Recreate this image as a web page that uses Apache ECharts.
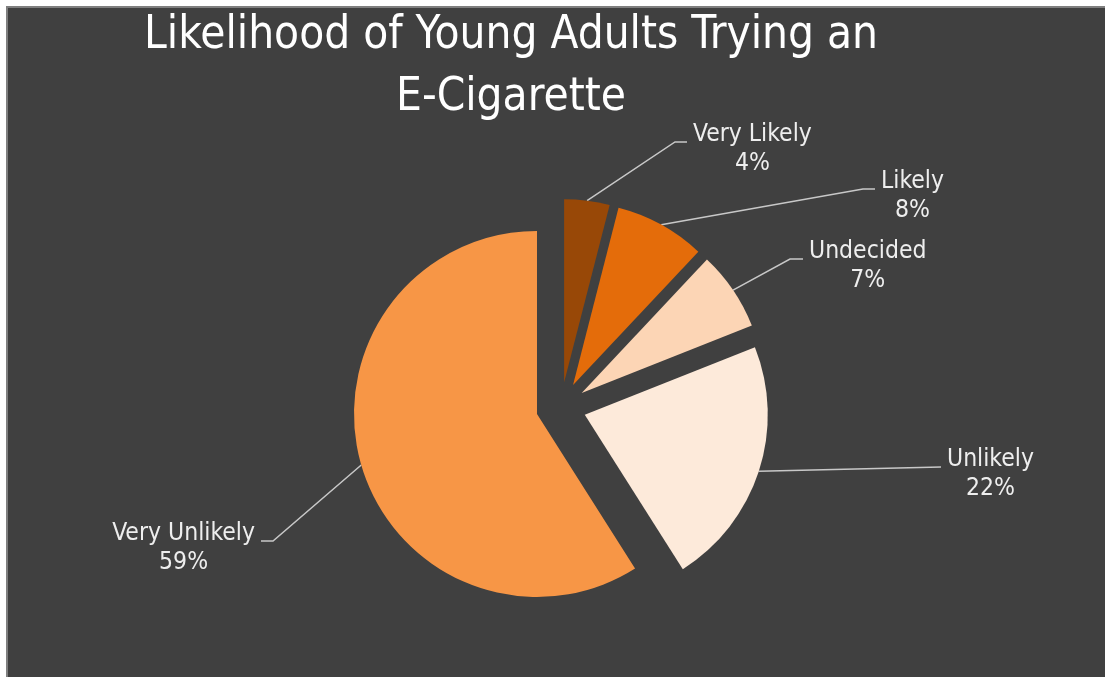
<!DOCTYPE html>
<html>
<head>
<meta charset="utf-8">
<script src="https://cdn.jsdelivr.net/npm/echarts@6/dist/echarts.min.js"></script>
<style>
  html, body { margin: 0; padding: 0; background: #ffffff; overflow: hidden; }
  #frame {
    position: absolute; left: 6px; top: 6px;
    width: 1110px; height: 680px;
    border-left: 2px solid #7f7f7f; border-top: 2px solid #7f7f7f;
    background: #404040;
  }
  #chart { width: 1110px; height: 680px; }
</style>
</head>
<body>
<div id="frame"><div id="chart"></div></div>
<script>
// Survey answers, in clockwise order from 12 o'clock
const categories = ['Very Likely', 'Likely', 'Undecided', 'Unlikely', 'Very Unlikely'];
const shares = [4, 8, 7, 22, 59];
const sliceColors = ['#984807', '#E46C0A', '#FCD5B5', '#FDEADA', '#F79646'];

// Pie geometry (chart pixels)
const PIE_CX = 553, PIE_CY = 399, PIE_R = 183, EXPLODE = 25;

// Leader-line elbows and ends for each label (chart pixels); side: which side the text sits on
const leaderLayout = [
  { elbow: [667, 134], end: [679, 134], side: 1 },
  { elbow: [855, 181], end: [867, 181], side: 1 },
  { elbow: [782, 251], end: [795, 251], side: 1 },
  { elbow: [933, 459], end: [933, 459], side: 1 },
  { elbow: [265, 533], end: [253, 533], side: -1 }
];

const FONT = "'DejaVu Sans Condensed', 'Liberation Sans Narrow', sans-serif";
const LABEL_SIZE = 24.5;

const total = shares.reduce((a, b) => a + b, 0);
function shareBefore(i) {
  let acc = 0;
  for (let k = 0; k < i; k++) acc += shares[k];
  return acc;
}
// angle of a slice's middle, clockwise from 12 o'clock, in radians
function midAngle(i) {
  return (shareBefore(i) + shares[i] / 2) / total * Math.PI * 2;
}

// widest line of a label, used to place the centred two-line text next to its leader line
const measureCtx = document.createElement('canvas').getContext('2d');
function labelWidth(text) {
  measureCtx.font = LABEL_SIZE + 'px ' + FONT;
  return Math.max.apply(null, text.split('\n').map(s => measureCtx.measureText(s).width));
}

// Each slice is its own pie series so it can be pulled out along its middle angle
const sliceSeries = categories.map((name, i) => {
  const a = midAngle(i);
  const cx = PIE_CX + EXPLODE * Math.sin(a);
  const cy = PIE_CY - EXPLODE * Math.cos(a);
  const text = name + '\n' + shares[i] + '%';
  return {
    type: 'pie',
    name: name,
    center: [cx, cy],
    radius: PIE_R,
    startAngle: 90 - shareBefore(i) / total * 360,
    clockwise: true,
    silent: true,
    avoidLabelOverlap: false,
    emphasis: { disabled: true },
    label: {
      show: true,
      position: 'outside',
      formatter: '{b}\n{c}%',
      color: '#eeeeee',
      fontFamily: FONT,
      fontSize: LABEL_SIZE,
      lineHeight: 29,
      align: 'center'
    },
    labelLine: {
      show: true,
      lineStyle: { color: '#c8c8c8', width: 1.5 }
    },
    labelLayout: function (p) {
      if (p.dataIndex !== 0) return;
      const L = leaderLayout[i];
      const start = [cx + PIE_R * Math.sin(a), cy - PIE_R * Math.cos(a)];
      return {
        x: L.end[0] + L.side * (6 + labelWidth(text) / 2),
        y: L.end[1] + 7,
        align: 'center',
        verticalAlign: 'middle',
        labelLinePoints: [start, L.elbow, L.end]
      };
    },
    data: [
      { name: name, value: shares[i], itemStyle: { color: sliceColors[i] } },
      {
        name: '', value: total - shares[i],
        itemStyle: { color: 'rgba(0,0,0,0)' },
        label: { show: false }, labelLine: { show: false }
      }
    ]
  };
});

const chart = echarts.init(document.getElementById('chart'), null, { renderer: 'canvas' });
chart.setOption({
  animation: false,
  backgroundColor: '#404040',
  title: {
    text: 'Likelihood of Young Adults Trying an\nE-Cigarette',
    left: 503,
    top: -3,
    padding: 0,
    textAlign: 'center',
    textStyle: {
      color: '#ffffff',
      fontFamily: FONT,
      fontSize: 45.5,
      fontWeight: 'normal',
      lineHeight: 62
    }
  },
  series: sliceSeries
});
</script>
</body>
</html>
